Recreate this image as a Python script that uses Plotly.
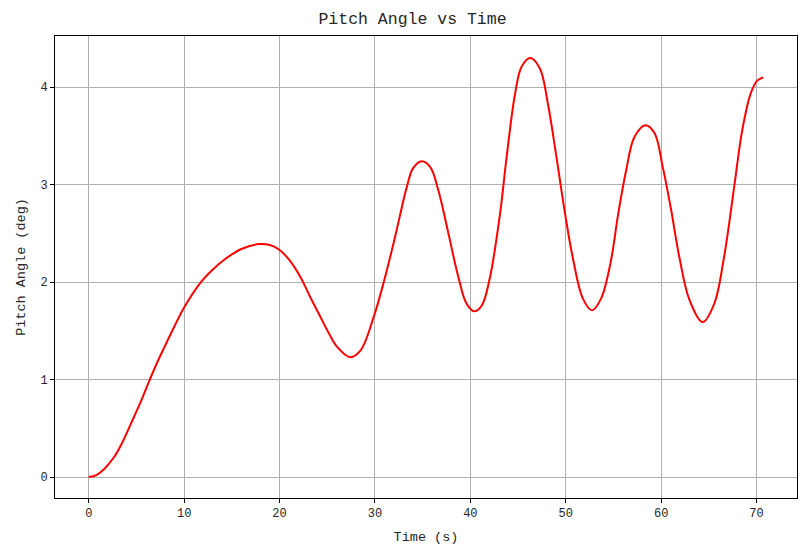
import plotly.graph_objects as go

# time (s) and pitch angle (deg)
time_s = [0.0, 0.8, 1.6, 2.7, 3.5, 4.44, 5.4, 6.36, 7.2, 7.92, 9.0, 10.0, 11.76,
          12.9, 14.2, 16.0, 17.85, 19.0, 20.0, 21.0, 22.2, 23.2, 24.3, 25.2, 26.0,
          27.4, 28.5, 29.86, 30.9, 32.1, 33.35, 34.0, 34.9, 35.8, 36.65, 37.7,
          38.75, 39.6, 40.4, 41.2, 42.06, 43.1, 43.8, 44.67, 45.37, 46.3, 47.3,
          48.15, 49.0, 49.9, 50.76, 51.8, 52.75, 53.7, 54.7, 55.5, 56.34, 57.2,
          58.36, 59.3, 60.17, 61.05, 61.9, 62.96, 64.35, 65.57, 66.6, 67.66, 68.5,
          69.4, 70.1, 70.7]
pitch_deg = [0.0, 0.02, 0.08, 0.21, 0.35, 0.55, 0.76, 0.99, 1.18, 1.33, 1.55, 1.74,
             2.0, 2.12, 2.23, 2.34, 2.39, 2.38, 2.33, 2.23, 2.05, 1.85, 1.64, 1.47,
             1.34, 1.23, 1.30, 1.64, 1.99, 2.46, 2.98, 3.17, 3.24, 3.18, 2.94, 2.50,
             2.05, 1.78, 1.70, 1.76, 2.05, 2.69, 3.28, 3.92, 4.21, 4.30, 4.19,
             3.82, 3.30, 2.72, 2.24, 1.83, 1.71, 1.83, 2.20, 2.70, 3.15, 3.49,
             3.61, 3.53, 3.18, 2.74, 2.26, 1.82, 1.59, 1.78, 2.26, 2.98, 3.56,
             3.94, 4.07, 4.10]

FONT = "Liberation Mono"
TEXT = "#262626"

fig = go.Figure()
fig.add_trace(go.Scatter(x=time_s, y=pitch_deg, mode="lines",
                         line=dict(color="red", width=2, shape="spline", smoothing=1.0),
                         showlegend=False))

axis_style = dict(showline=True, linecolor="black", linewidth=1, mirror=True,
                  ticks="outside", ticklen=4, tickwidth=1, tickcolor="black",
                  showgrid=True, gridcolor="#b0b0b0", gridwidth=1, zeroline=False,
                  tickfont=dict(family=FONT, size=12, color=TEXT))

fig.update_xaxes(range=[-3.535, 74.24], dtick=10, tick0=0,
                 title=dict(text="Time (s)", font=dict(family=FONT, size=13.5, color=TEXT),
                            standoff=11),
                 **axis_style)
fig.update_yaxes(range=[-0.2155, 4.5255], dtick=1, tick0=0,
                 title=dict(text="Pitch Angle (deg)", font=dict(family=FONT, size=13.5, color=TEXT),
                            standoff=11),
                 **axis_style)

# page body has an 8px margin, so the plot box is shifted by that much
fig.update_layout(
    width=809, height=555,
    title=dict(text="Pitch Angle vs Time", x=0.5, xanchor="center", y=0.982, yanchor="middle",
               font=dict(family=FONT, size=16.5, color=TEXT)),
    margin=dict(l=45, r=20, t=28, b=65),
    plot_bgcolor="white", paper_bgcolor="white",
)

fig.write_html("out.html")
